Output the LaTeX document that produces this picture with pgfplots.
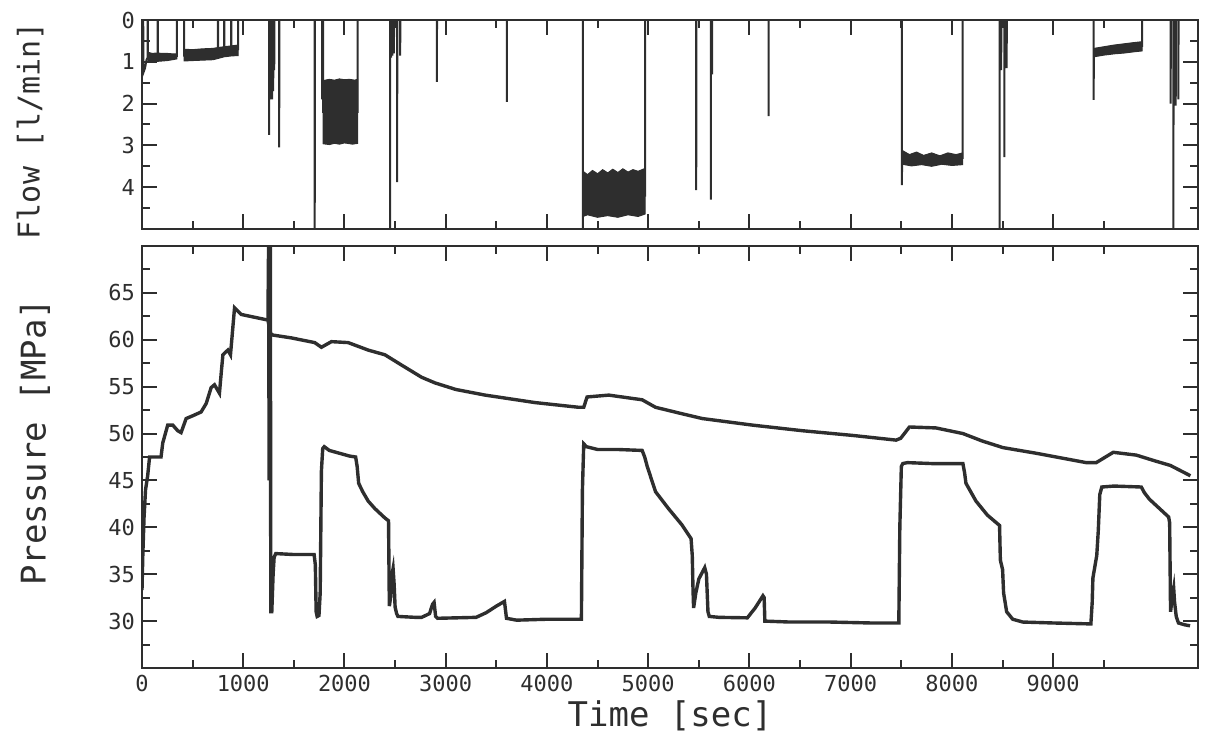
\documentclass[border=0pt]{standalone}
\usepackage{fontspec}
\setmainfont{DejaVu Sans Mono}
\usepackage{pgfplots}
\pgfplotsset{compat=1.18}
\definecolor{ink}{HTML}{2E2E2E}
\begin{document}
\begin{tikzpicture}
\path[use as bounding box] (-71pt,-38pt) rectangle (532.5pt,334pt);
\pgfplotsset{
  every axis/.append style={
    scale only axis, width=528pt, xmin=0, xmax=10430,
    axis line style={ink, line width=1pt},
    every tick/.style={ink, line width=1pt},
    tick align=inside,
    major tick length=7.5pt, minor tick length=4pt,
    xtick={0,1000,...,9000},
    minor xtick={500,1500,...,9500},
    ticklabel style={font=\fontsize{11}{13}\selectfont, text=ink},
    /pgf/number format/assume math mode=true,
    /pgf/number format/1000 sep={},
    scaled ticks=false,
    label style={text=ink},
    clip=true,
  },
}
% ---------------- Flow panel ----------------
\begin{axis}[
  at={(0,219.5pt)}, anchor=south west, height=104.5pt,
  ymin=0, ymax=5, y dir=reverse,
  ytick={0,1,2,3,4}, minor ytick={0.5,1.5,...,4.5},
  xticklabels={},
  ylabel={Flow [l/min]},
  ylabel style={at={(axis description cs:-0.106,0.47)}, anchor=center, font=\fontsize{15}{18}\selectfont},
]
% noisy bands
\addplot[fill=ink, draw=ink, line width=0.5pt] coordinates {(57,0.77)(100,0.80)(150,0.79)(200,0.80)(250,0.80)(300,0.81)(345,0.81)(345,0.93)(300,0.95)(250,0.97)(200,0.98)(150,0.99)(100,1.0)(57,1.01)} --cycle;
\addplot[fill=ink, draw=ink, line width=0.5pt] coordinates {(415,0.70)(500,0.71)(600,0.69)(700,0.68)(750,0.66)(812,0.64)(880,0.62)(950,0.60)(950,0.85)(880,0.86)(812,0.88)(750,0.92)(700,0.95)(600,0.96)(500,0.97)(415,0.98)} --cycle;
\addplot[fill=ink, draw=ink, line width=0.5pt] coordinates {(1790,1.45)(1850,1.42)(1900,1.44)(1950,1.41)(2000,1.43)(2050,1.42)(2100,1.44)(2130,1.42)(2130,2.95)(2080,2.97)(2000,2.94)(1950,2.97)(1900,2.95)(1850,2.98)(1790,2.96)} --cycle;
\addplot[fill=ink, draw=ink, line width=0.5pt] coordinates {(4356,3.62)(4400,3.70)(4450,3.60)(4500,3.68)(4550,3.58)(4600,3.66)(4650,3.57)(4700,3.65)(4750,3.56)(4800,3.64)(4850,3.58)(4900,3.62)(4970,3.55)(4970,4.64)(4900,4.70)(4800,4.66)(4700,4.72)(4600,4.68)(4500,4.72)(4400,4.66)(4356,4.70)} --cycle;
\addplot[fill=ink, draw=ink, line width=0.5pt] coordinates {(7508,3.12)(7580,3.22)(7650,3.16)(7720,3.24)(7800,3.18)(7880,3.25)(7960,3.18)(8040,3.22)(8105,3.18)(8105,3.46)(8000,3.48)(7900,3.45)(7800,3.50)(7700,3.46)(7600,3.49)(7508,3.45)} --cycle;
\addplot[fill=ink, draw=ink, line width=0.5pt] coordinates {(9402,0.68)(9500,0.64)(9600,0.60)(9700,0.57)(9800,0.54)(9877,0.52)(9877,0.74)(9800,0.76)(9700,0.79)(9600,0.81)(9500,0.84)(9402,0.88)} --cycle;
% flow trace with spikes
\addplot[ink, line width=1pt] coordinates {
(0,0)(12,0)(15,1.25)(30,1.15)(45,0.95)(56,0.9)(56,0)(58,0)(58,0.88)(155,0.88)(155,0)(157,0)(157,0.86)(345,0.86)(345,0)(415,0)(415,0.85)
(750,0.78)(750,0)(752,0)(752,0.78)(812,0.76)(812,0)(814,0)(814,0.75)(880,0.72)(880,0)(882,0)(882,0.72)(950,0.7)(950,0)
(1255,0)(1255,2.75)(1257,0)(1266,0)(1266,1.9)(1268,0)(1276,0)(1276,1.85)(1278,0)(1286,0)(1286,1.9)(1288,0)(1296,0)(1296,1.7)(1298,0)(1306,0)(1306,1.2)(1308,0)(1355,0)(1355,3.05)(1357,0)
(1706,0)(1706,5)(1708,0)
(1780,0)(1780,1.9)(1782,0)(1790,0)(1790,2.2)(2130,2.2)(2130,0)
(2450,0)(2450,5)(2452,0)(2460,0)(2460,0.9)(2462,0)(2474,0)(2474,0.85)(2476,0)(2488,0)(2488,0.8)(2490,0)
(2520,0)(2520,3.88)(2522,0)(2550,0)(2550,0.85)(2552,0)
(2912,0)(2912,1.48)(2914,0)
(3603,0)(3603,1.96)(3605,0)
(4354,0)(4354,5)(4356,4.2)(4970,4.2)(4970,0)
(5474,0)(5474,4.07)(5476,0)
(5618,0)(5618,4.3)(5620,0)(5630,0)(5630,1.3)(5632,0)
(6188,0)(6188,2.3)(6190,0)
(7505,0)(7505,3.95)(7508,3.3)(8105,3.3)(8105,0)
(8470,0)(8470,5)(8472,0)(8486,0)(8486,1.2)(8488,0)(8517,0)(8517,3.28)(8519,0)(8540,0)(8540,1.15)(8542,0)
(9399,0)(9399,1.91)(9402,0.75)(9877,0.62)(9877,0)
(10160,0)(10160,2.0)(10162,0)(10187,0)(10187,5)(10189,0)(10210,0)(10210,2.05)(10212,0)(10236,0)(10236,1.9)(10238,0)
(10430,0)
};
\end{axis}
% ---------------- Pressure panel ----------------
\begin{axis}[
  at={(0,0)}, anchor=south west, height=211pt,
  ymin=25, ymax=70,
  ytick={30,35,...,65}, minor ytick={27.5,32.5,...,67.5},
  xlabel={Time [sec]},
  xlabel style={at={(axis description cs:0.5,0)}, anchor=center, yshift=-24pt, font=\fontsize{17}{20}\selectfont},
  ylabel={Pressure [MPa]},
  ylabel style={at={(axis description cs:-0.1013,0.535)}, anchor=center, font=\fontsize{17}{20}\selectfont},
]
% upper pressure trace
\addplot[ink, line width=1.7pt] coordinates {
(0,33.3)(8,37)(20,41)(35,44)(56,45.5)(75,47.5)(188,47.5)(205,49.0)(254,50.9)(304,50.9)(353,50.3)(386,50.1)(436,51.6)(502,51.9)(584,52.3)(634,53.2)(683,54.9)(716,55.2)(765,54.3)(782,56.4)(799,58.4)(848,58.9)(874,58.4)(914,63.4)(980,62.7)(1112,62.4)(1244,62.1)(1262,61.0)(1275,60.6)
(1294,60.5)(1475,60.2)(1706,59.7)(1772,59.2)(1871,59.8)(2036,59.7)(2234,58.9)(2399,58.4)(2564,57.3)(2762,56.0)(2894,55.4)(3100,54.7)(3389,54.1)(3884,53.3)(4313,52.8)(4363,52.8)(4396,53.9)(4610,54.1)(4940,53.6)(5072,52.8)(5300,52.2)(5534,51.6)(6029,50.9)(6524,50.3)(6722,50.1)(7019,49.8)(7448,49.3)(7494,49.5)(7580,50.7)(7841,50.6)(8108,50.0)(8300,49.2)(8504,48.5)(8831,47.9)(9326,46.9)(9425,46.9)(9593,48.0)(9821,47.7)(10000,47.1)(10157,46.6)(10355,45.5)
};
% lower pressure trace
\addplot[ink, line width=1.7pt] coordinates {
(1244,62.1)(1250,70)(1256,45)(1260,70)(1265,58)(1268,70)(1272,31)(1282,31)(1295,35)(1305,36.8)(1321,37.2)(1500,37.1)(1700,37.1)(1712,36)(1720,31)(1730,30.5)(1748,30.6)(1760,33)(1772,46)(1785,48.4)(1800,48.6)(1850,48.2)(1950,47.9)(2050,47.6)(2110,47.5)(2125,46.5)(2140,44.7)(2180,43.8)(2234,42.8)(2300,42.0)(2399,41.0)(2435,40.7)(2443,31.6)(2455,32.5)(2470,35)(2480,35.6)(2490,34)(2500,31.5)(2515,30.8)(2528,30.5)(2700,30.4)(2762,30.4)(2840,30.8)(2870,31.8)(2885,32)(2900,30.5)(2920,30.3)(3300,30.4)(3400,30.9)(3500,31.6)(3580,32.1)(3600,30.3)(3700,30.1)(4000,30.2)(4340,30.2)(4350,44)(4363,48.9)(4390,48.6)(4500,48.3)(4700,48.3)(4940,48.2)(4965,47.5)(4990,46.5)(5072,43.8)(5200,42)(5330,40.3)(5423,38.8)(5435,37)(5442,33.5)(5448,31.4)(5470,33)(5500,34.5)(5558,35.7)(5575,35)(5590,31)(5603,30.5)(5700,30.4)(5979,30.35)(6056,31.4)(6133,32.7)(6145,32.5)(6152,30.0)(6400,29.9)(6800,29.9)(7200,29.8)(7475,29.8)(7485,40)(7500,46.5)(7514,46.8)(7560,46.9)(7800,46.8)(8108,46.8)(8125,45.8)(8138,44.7)(8237,42.8)(8350,41.3)(8470,40.2)(8478,36.5)(8500,35.5)(8510,33)(8540,31)(8600,30.2)(8700,29.9)(9000,29.8)(9372,29.7)(9385,32)(9392,34.6)(9430,37)(9445,39.6)(9460,43.5)(9480,44.3)(9600,44.4)(9870,44.3)(9900,43.7)(9950,43.0)(10050,42.0)(10140,41.1)(10150,40.5)(10159,31)(10175,32.5)(10190,33.5)(10198,32.1)(10215,30.5)(10237,29.8)(10300,29.6)(10352,29.5)
};
\end{axis}
\end{tikzpicture}
\end{document}
